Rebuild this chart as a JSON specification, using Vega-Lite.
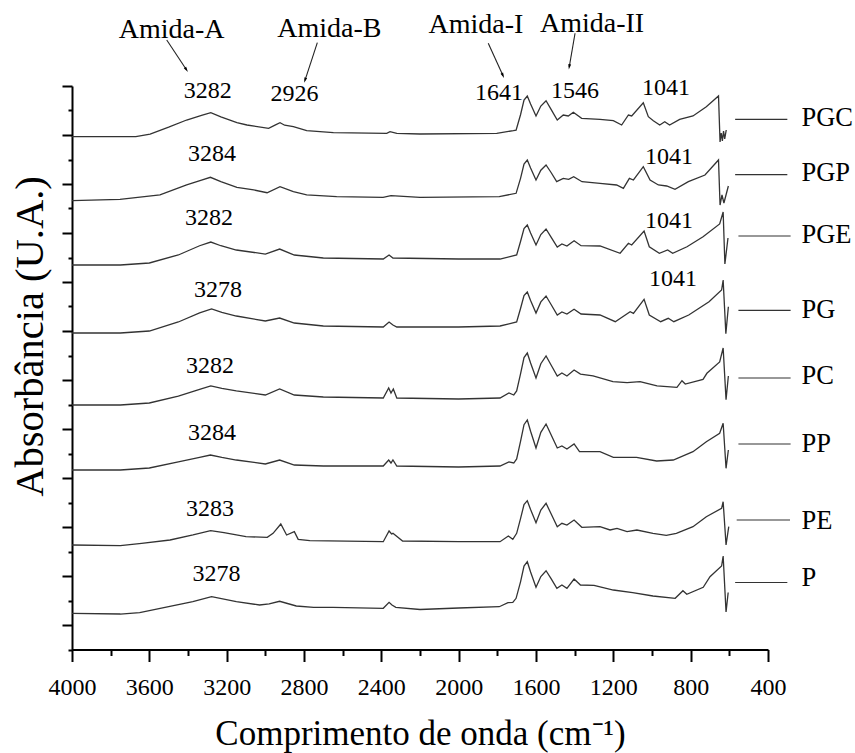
{
"$schema": "https://vega.github.io/schema/vega-lite/v6.json",
"width": 696, "height": 563.5,
"autosize": "none",
"padding": {"left": 72, "top": 86, "right": 87, "bottom": 103.5},
"background": "white",
"config": {
  "font": "'Liberation Serif', 'Times New Roman', serif",
  "view": {"stroke": null},
  "axis": {"domain": true, "domainColor": "black", "tickColor": "black", "labelColor": "black", "titleColor": "black", "labelFont": "'Liberation Serif', 'Times New Roman', serif", "titleFont": "'Liberation Serif', 'Times New Roman', serif", "grid": false, "domainWidth": 2, "tickWidth": 2, "titleFontWeight": "normal"}
},
"datasets": {
"sp": [
{"s":"PGC","x":4000,"y":10.465},{"s":"PGC","x":3670,"y":10.465},{"s":"PGC","x":3596,"y":10.52},{"s":"PGC","x":3500,"y":10.66},{"s":"PGC","x":3407,"y":10.806},{"s":"PGC","x":3330,"y":10.9},{"s":"PGC","x":3282,"y":10.955},{"s":"PGC","x":3230,"y":10.87},{"s":"PGC","x":3147,"y":10.751},{"s":"PGC","x":3095,"y":10.704},{"s":"PGC","x":2983,"y":10.637},{"s":"PGC","x":2950,"y":10.7},{"s":"PGC","x":2924,"y":10.751},{"s":"PGC","x":2900,"y":10.7},{"s":"PGC","x":2855,"y":10.669},{"s":"PGC","x":2786,"y":10.588},{"s":"PGC","x":2648,"y":10.547},{"s":"PGC","x":2372,"y":10.535},{"s":"PGC","x":2355,"y":10.567},{"s":"PGC","x":2320,"y":10.535},{"s":"PGC","x":2200,"y":10.52},{"s":"PGC","x":1803,"y":10.535},{"s":"PGC","x":1717,"y":10.588},{"s":"PGC","x":1703,"y":10.6},{"s":"PGC","x":1680,"y":10.913},{"s":"PGC","x":1662,"y":11.212},{"s":"PGC","x":1645,"y":11.296},{"s":"PGC","x":1628,"y":11.133},{"s":"PGC","x":1600,"y":10.888},{"s":"PGC","x":1575,"y":11.091},{"s":"PGC","x":1548,"y":11.2},{"s":"PGC","x":1522,"y":11.023},{"s":"PGC","x":1490,"y":10.806},{"s":"PGC","x":1459,"y":10.908},{"s":"PGC","x":1433,"y":10.888},{"s":"PGC","x":1407,"y":10.963},{"s":"PGC","x":1364,"y":10.841},{"s":"PGC","x":1269,"y":10.82},{"s":"PGC","x":1200,"y":10.792},{"s":"PGC","x":1157,"y":10.704},{"s":"PGC","x":1122,"y":10.908},{"s":"PGC","x":1105,"y":10.888},{"s":"PGC","x":1045,"y":11.159},{"s":"PGC","x":1019,"y":10.873},{"s":"PGC","x":993,"y":10.792},{"s":"PGC","x":960,"y":10.704},{"s":"PGC","x":934,"y":10.771},{"s":"PGC","x":909,"y":10.704},{"s":"PGC","x":857,"y":10.82},{"s":"PGC","x":788,"y":10.888},{"s":"PGC","x":719,"y":11.078},{"s":"PGC","x":656,"y":11.296},{"s":"PGC","x":648,"y":10.357},{"s":"PGC","x":642,"y":10.541},{"s":"PGC","x":636,"y":10.378},{"s":"PGC","x":630,"y":10.582},{"s":"PGC","x":624,"y":10.42},{"s":"PGC","x":616,"y":10.602},
{"s":"PGP","x":4000,"y":9.159},{"s":"PGP","x":3752,"y":9.188},{"s":"PGP","x":3545,"y":9.276},{"s":"PGP","x":3407,"y":9.48},{"s":"PGP","x":3330,"y":9.58},{"s":"PGP","x":3284,"y":9.637},{"s":"PGP","x":3230,"y":9.55},{"s":"PGP","x":3147,"y":9.433},{"s":"PGP","x":3060,"y":9.378},{"s":"PGP","x":2991,"y":9.322},{"s":"PGP","x":2924,"y":9.445},{"s":"PGP","x":2855,"y":9.343},{"s":"PGP","x":2786,"y":9.276},{"s":"PGP","x":2631,"y":9.241},{"s":"PGP","x":2391,"y":9.229},{"s":"PGP","x":2350,"y":9.261},{"s":"PGP","x":2200,"y":9.229},{"s":"PGP","x":1790,"y":9.241},{"s":"PGP","x":1703,"y":9.31},{"s":"PGP","x":1680,"y":9.616},{"s":"PGP","x":1662,"y":9.908},{"s":"PGP","x":1645,"y":9.99},{"s":"PGP","x":1628,"y":9.827},{"s":"PGP","x":1600,"y":9.582},{"s":"PGP","x":1575,"y":9.781},{"s":"PGP","x":1548,"y":9.888},{"s":"PGP","x":1522,"y":9.735},{"s":"PGP","x":1493,"y":9.547},{"s":"PGP","x":1459,"y":9.616},{"s":"PGP","x":1431,"y":9.596},{"s":"PGP","x":1405,"y":9.649},{"s":"PGP","x":1362,"y":9.547},{"s":"PGP","x":1269,"y":9.514},{"s":"PGP","x":1183,"y":9.48},{"s":"PGP","x":1148,"y":9.412},{"s":"PGP","x":1117,"y":9.616},{"s":"PGP","x":1096,"y":9.582},{"s":"PGP","x":1045,"y":9.853},{"s":"PGP","x":1010,"y":9.582},{"s":"PGP","x":967,"y":9.48},{"s":"PGP","x":924,"y":9.459},{"s":"PGP","x":881,"y":9.392},{"s":"PGP","x":812,"y":9.547},{"s":"PGP","x":726,"y":9.684},{"s":"PGP","x":656,"y":9.99},{"s":"PGP","x":648,"y":9.071},{"s":"PGP","x":638,"y":9.276},{"s":"PGP","x":628,"y":9.112},{"s":"PGP","x":605,"y":9.459},
{"s":"PGE","x":4000,"y":7.847},{"s":"PGE","x":3750,"y":7.847},{"s":"PGE","x":3600,"y":7.888},{"s":"PGE","x":3450,"y":8.051},{"s":"PGE","x":3340,"y":8.24},{"s":"PGE","x":3282,"y":8.316},{"s":"PGE","x":3230,"y":8.24},{"s":"PGE","x":3150,"y":8.153},{"s":"PGE","x":3000,"y":8.071},{"s":"PGE","x":2926,"y":8.173},{"s":"PGE","x":2850,"y":8.051},{"s":"PGE","x":2700,"y":7.99},{"s":"PGE","x":2390,"y":7.969},{"s":"PGE","x":2360,"y":8.051},{"s":"PGE","x":2340,"y":7.99},{"s":"PGE","x":2000,"y":7.969},{"s":"PGE","x":1786,"y":7.969},{"s":"PGE","x":1700,"y":8.051},{"s":"PGE","x":1680,"y":8.326},{"s":"PGE","x":1662,"y":8.59},{"s":"PGE","x":1645,"y":8.663},{"s":"PGE","x":1628,"y":8.5},{"s":"PGE","x":1600,"y":8.255},{"s":"PGE","x":1575,"y":8.468},{"s":"PGE","x":1548,"y":8.582},{"s":"PGE","x":1522,"y":8.416},{"s":"PGE","x":1490,"y":8.214},{"s":"PGE","x":1466,"y":8.276},{"s":"PGE","x":1440,"y":8.235},{"s":"PGE","x":1403,"y":8.343},{"s":"PGE","x":1367,"y":8.241},{"s":"PGE","x":1269,"y":8.235},{"s":"PGE","x":1165,"y":8.086},{"s":"PGE","x":1122,"y":8.29},{"s":"PGE","x":1105,"y":8.255},{"s":"PGE","x":1041,"y":8.541},{"s":"PGE","x":1014,"y":8.22},{"s":"PGE","x":962,"y":8.086},{"s":"PGE","x":919,"y":8.153},{"s":"PGE","x":893,"y":8.086},{"s":"PGE","x":819,"y":8.22},{"s":"PGE","x":736,"y":8.424},{"s":"PGE","x":650,"y":8.684},{"s":"PGE","x":632,"y":8.929},{"s":"PGE","x":623,"y":7.867},{"s":"PGE","x":607,"y":8.398},
{"s":"PG","x":4000,"y":6.459},{"s":"PG","x":3750,"y":6.459},{"s":"PG","x":3600,"y":6.5},{"s":"PG","x":3450,"y":6.684},{"s":"PG","x":3340,"y":6.87},{"s":"PG","x":3278,"y":6.949},{"s":"PG","x":3225,"y":6.88},{"s":"PG","x":3150,"y":6.806},{"s":"PG","x":3000,"y":6.704},{"s":"PG","x":2926,"y":6.765},{"s":"PG","x":2850,"y":6.663},{"s":"PG","x":2700,"y":6.602},{"s":"PG","x":2390,"y":6.582},{"s":"PG","x":2360,"y":6.684},{"s":"PG","x":2340,"y":6.622},{"s":"PG","x":2320,"y":6.582},{"s":"PG","x":2000,"y":6.582},{"s":"PG","x":1786,"y":6.602},{"s":"PG","x":1700,"y":6.684},{"s":"PG","x":1680,"y":6.959},{"s":"PG","x":1662,"y":7.223},{"s":"PG","x":1645,"y":7.296},{"s":"PG","x":1628,"y":7.124},{"s":"PG","x":1600,"y":6.867},{"s":"PG","x":1575,"y":7.093},{"s":"PG","x":1548,"y":7.214},{"s":"PG","x":1522,"y":7.04},{"s":"PG","x":1490,"y":6.827},{"s":"PG","x":1466,"y":6.888},{"s":"PG","x":1440,"y":6.847},{"s":"PG","x":1403,"y":6.943},{"s":"PG","x":1367,"y":6.847},{"s":"PG","x":1269,"y":6.827},{"s":"PG","x":1190,"y":6.69},{"s":"PG","x":1113,"y":6.894},{"s":"PG","x":1096,"y":6.861},{"s":"PG","x":1041,"y":7.147},{"s":"PG","x":1014,"y":6.827},{"s":"PG","x":955,"y":6.69},{"s":"PG","x":916,"y":6.759},{"s":"PG","x":887,"y":6.69},{"s":"PG","x":810,"y":6.827},{"s":"PG","x":705,"y":7.098},{"s":"PG","x":640,"y":7.337},{"s":"PG","x":632,"y":7.541},{"s":"PG","x":618,"y":6.447},{"s":"PG","x":605,"y":6.996},
{"s":"PC","x":4000,"y":4.99},{"s":"PC","x":3750,"y":4.99},{"s":"PC","x":3600,"y":5.031},{"s":"PC","x":3450,"y":5.173},{"s":"PC","x":3340,"y":5.31},{"s":"PC","x":3282,"y":5.378},{"s":"PC","x":3225,"y":5.33},{"s":"PC","x":3150,"y":5.276},{"s":"PC","x":3000,"y":5.194},{"s":"PC","x":2926,"y":5.316},{"s":"PC","x":2850,"y":5.194},{"s":"PC","x":2700,"y":5.153},{"s":"PC","x":2390,"y":5.133},{"s":"PC","x":2362,"y":5.337},{"s":"PC","x":2350,"y":5.235},{"s":"PC","x":2338,"y":5.316},{"s":"PC","x":2320,"y":5.133},{"s":"PC","x":2000,"y":5.112},{"s":"PC","x":1786,"y":5.133},{"s":"PC","x":1740,"y":5.235},{"s":"PC","x":1715,"y":5.194},{"s":"PC","x":1700,"y":5.276},{"s":"PC","x":1680,"y":5.625},{"s":"PC","x":1662,"y":5.958},{"s":"PC","x":1645,"y":6.051},{"s":"PC","x":1628,"y":5.847},{"s":"PC","x":1600,"y":5.541},{"s":"PC","x":1575,"y":5.833},{"s":"PC","x":1548,"y":5.99},{"s":"PC","x":1522,"y":5.806},{"s":"PC","x":1490,"y":5.582},{"s":"PC","x":1466,"y":5.643},{"s":"PC","x":1440,"y":5.582},{"s":"PC","x":1403,"y":5.704},{"s":"PC","x":1370,"y":5.622},{"s":"PC","x":1305,"y":5.582},{"s":"PC","x":1202,"y":5.465},{"s":"PC","x":1129,"y":5.445},{"s":"PC","x":1062,"y":5.465},{"s":"PC","x":974,"y":5.378},{"s":"PC","x":871,"y":5.351},{"s":"PC","x":845,"y":5.486},{"s":"PC","x":828,"y":5.418},{"s":"PC","x":736,"y":5.514},{"s":"PC","x":716,"y":5.637},{"s":"PC","x":650,"y":5.867},{"s":"PC","x":632,"y":6.153},{"s":"PC","x":617,"y":5.1},{"s":"PC","x":605,"y":5.582},
{"s":"PP","x":4000,"y":3.663},{"s":"PP","x":3750,"y":3.663},{"s":"PP","x":3600,"y":3.704},{"s":"PP","x":3450,"y":3.827},{"s":"PP","x":3340,"y":3.92},{"s":"PP","x":3284,"y":3.969},{"s":"PP","x":3225,"y":3.92},{"s":"PP","x":3150,"y":3.867},{"s":"PP","x":3000,"y":3.786},{"s":"PP","x":2926,"y":3.867},{"s":"PP","x":2850,"y":3.765},{"s":"PP","x":2700,"y":3.745},{"s":"PP","x":2390,"y":3.745},{"s":"PP","x":2362,"y":3.867},{"s":"PP","x":2350,"y":3.806},{"s":"PP","x":2340,"y":3.867},{"s":"PP","x":2320,"y":3.745},{"s":"PP","x":2000,"y":3.724},{"s":"PP","x":1786,"y":3.745},{"s":"PP","x":1740,"y":3.827},{"s":"PP","x":1715,"y":3.806},{"s":"PP","x":1700,"y":3.888},{"s":"PP","x":1680,"y":4.246},{"s":"PP","x":1662,"y":4.588},{"s":"PP","x":1645,"y":4.684},{"s":"PP","x":1628,"y":4.455},{"s":"PP","x":1600,"y":4.112},{"s":"PP","x":1575,"y":4.431},{"s":"PP","x":1548,"y":4.602},{"s":"PP","x":1522,"y":4.382},{"s":"PP","x":1490,"y":4.112},{"s":"PP","x":1466,"y":4.153},{"s":"PP","x":1440,"y":4.092},{"s":"PP","x":1403,"y":4.194},{"s":"PP","x":1375,"y":4.037},{"s":"PP","x":1269,"y":4.037},{"s":"PP","x":1200,"y":3.922},{"s":"PP","x":1080,"y":3.922},{"s":"PP","x":976,"y":3.847},{"s":"PP","x":890,"y":3.867},{"s":"PP","x":788,"y":4.037},{"s":"PP","x":719,"y":4.241},{"s":"PP","x":650,"y":4.412},{"s":"PP","x":632,"y":4.616},{"s":"PP","x":617,"y":3.698},{"s":"PP","x":605,"y":4.071},
{"s":"PE","x":4000,"y":2.133},{"s":"PE","x":3750,"y":2.118},{"s":"PE","x":3640,"y":2.167},{"s":"PE","x":3493,"y":2.235},{"s":"PE","x":3374,"y":2.337},{"s":"PE","x":3283,"y":2.424},{"s":"PE","x":3214,"y":2.384},{"s":"PE","x":3100,"y":2.302},{"s":"PE","x":2990,"y":2.29},{"s":"PE","x":2960,"y":2.371},{"s":"PE","x":2920,"y":2.561},{"s":"PE","x":2890,"y":2.337},{"s":"PE","x":2850,"y":2.404},{"s":"PE","x":2830,"y":2.249},{"s":"PE","x":2770,"y":2.22},{"s":"PE","x":2390,"y":2.2},{"s":"PE","x":2360,"y":2.418},{"s":"PE","x":2347,"y":2.357},{"s":"PE","x":2340,"y":2.371},{"s":"PE","x":2290,"y":2.214},{"s":"PE","x":2000,"y":2.2},{"s":"PE","x":1786,"y":2.2},{"s":"PE","x":1743,"y":2.316},{"s":"PE","x":1720,"y":2.249},{"s":"PE","x":1700,"y":2.371},{"s":"PE","x":1680,"y":2.671},{"s":"PE","x":1662,"y":2.957},{"s":"PE","x":1645,"y":3.037},{"s":"PE","x":1628,"y":2.857},{"s":"PE","x":1600,"y":2.588},{"s":"PE","x":1575,"y":2.845},{"s":"PE","x":1548,"y":2.984},{"s":"PE","x":1522,"y":2.769},{"s":"PE","x":1490,"y":2.506},{"s":"PE","x":1466,"y":2.576},{"s":"PE","x":1440,"y":2.541},{"s":"PE","x":1403,"y":2.643},{"s":"PE","x":1363,"y":2.494},{"s":"PE","x":1269,"y":2.506},{"s":"PE","x":1217,"y":2.439},{"s":"PE","x":1181,"y":2.473},{"s":"PE","x":1129,"y":2.404},{"s":"PE","x":1078,"y":2.439},{"s":"PE","x":995,"y":2.371},{"s":"PE","x":926,"y":2.331},{"s":"PE","x":874,"y":2.371},{"s":"PE","x":788,"y":2.506},{"s":"PE","x":719,"y":2.71},{"s":"PE","x":640,"y":2.882},{"s":"PE","x":632,"y":3.016},{"s":"PE","x":617,"y":2.133},{"s":"PE","x":603,"y":2.506},
{"s":"P","x":4000,"y":0.739},{"s":"P","x":3750,"y":0.724},{"s":"P","x":3650,"y":0.751},{"s":"P","x":3500,"y":0.873},{"s":"P","x":3375,"y":0.976},{"s":"P","x":3278,"y":1.078},{"s":"P","x":3150,"y":0.976},{"s":"P","x":3030,"y":0.908},{"s":"P","x":2980,"y":0.929},{"s":"P","x":2926,"y":0.984},{"s":"P","x":2840,"y":0.888},{"s":"P","x":2750,"y":0.861},{"s":"P","x":2650,"y":0.861},{"s":"P","x":2390,"y":0.841},{"s":"P","x":2360,"y":0.963},{"s":"P","x":2345,"y":0.908},{"s":"P","x":2325,"y":0.861},{"s":"P","x":2200,"y":0.816},{"s":"P","x":2000,"y":0.847},{"s":"P","x":1790,"y":0.873},{"s":"P","x":1745,"y":0.955},{"s":"P","x":1720,"y":0.963},{"s":"P","x":1703,"y":1.045},{"s":"P","x":1680,"y":1.381},{"s":"P","x":1662,"y":1.702},{"s":"P","x":1645,"y":1.792},{"s":"P","x":1628,"y":1.583},{"s":"P","x":1600,"y":1.269},{"s":"P","x":1575,"y":1.489},{"s":"P","x":1548,"y":1.608},{"s":"P","x":1522,"y":1.446},{"s":"P","x":1492,"y":1.249},{"s":"P","x":1466,"y":1.316},{"s":"P","x":1440,"y":1.249},{"s":"P","x":1403,"y":1.439},{"s":"P","x":1370,"y":1.316},{"s":"P","x":1300,"y":1.31},{"s":"P","x":1200,"y":1.214},{"s":"P","x":1100,"y":1.159},{"s":"P","x":995,"y":1.092},{"s":"P","x":880,"y":1.045},{"s":"P","x":840,"y":1.2},{"s":"P","x":820,"y":1.127},{"s":"P","x":735,"y":1.269},{"s":"P","x":700,"y":1.486},{"s":"P","x":640,"y":1.704},{"s":"P","x":632,"y":1.908},{"s":"P","x":617,"y":0.765},{"s":"P","x":606,"y":1.163}
],
"peaks": [
{"t":"3282","x":3298,"y":11.398},{"t":"2926","x":2849,"y":11.337},{"t":"1641","x":1792,"y":11.357},{"t":"1546","x":1398,"y":11.408},{"t":"1041","x":928,"y":11.469},
{"t":"3284","x":3276,"y":10.112},{"t":"1041","x":912,"y":10.051},
{"t":"3282","x":3291,"y":8.806},{"t":"1041","x":912,"y":8.755},
{"t":"3278","x":3245,"y":7.337},{"t":"1041","x":891,"y":7.561},
{"t":"3282","x":3286,"y":5.786},{"t":"3284","x":3276,"y":4.418},{"t":"3283","x":3286,"y":2.867},{"t":"3278","x":3252,"y":1.541}
],
"amide": [
{"t":"Amida-A","x":3485,"y":12.48},{"t":"Amida-B","x":2669,"y":12.5},{"t":"Amida-I","x":1911,"y":12.582},{"t":"Amida-II","x":1310,"y":12.602}
],
"arrows": [
{"x":3510,"y":12.439,"x2":3408,"y2":11.831},
{"x":2731,"y":12.384,"x2":2795,"y2":11.616},
{"x":1847,"y":12.371,"x2":1771,"y2":11.714},
{"x":1398,"y":12.576,"x2":1428,"y2":11.892}
],
"heads": [
{"x":3408,"y":11.831,"a":146.4},
{"x":2795,"y":11.616,"a":198.3},
{"x":1771,"y":11.714,"a":155.5},
{"x":1428,"y":11.892,"a":189.9}
],
"legline": [
{"t":"PGC","x":570,"x2":300,"y":10.82},
{"t":"PGP","x":570,"x2":300,"y":9.692},
{"t":"PGE","x":553,"x2":283,"y":8.439},
{"t":"PG","x":553,"x2":283,"y":6.92},
{"t":"PC","x":553,"x2":283,"y":5.541},
{"t":"PP","x":553,"x2":283,"y":4.194},
{"t":"PE","x":562,"x2":286,"y":2.643},
{"t":"P","x":570,"x2":300,"y":1.367}
],
"legtext": [
{"t":"PGC","x":227,"y":10.857},
{"t":"PGP","x":227,"y":9.727},
{"t":"PGE","x":227,"y":8.459},
{"t":"PG","x":227,"y":6.92},
{"t":"PC","x":227,"y":5.573},
{"t":"PP","x":227,"y":4.188},
{"t":"PE","x":227,"y":2.622},
{"t":"P","x":227,"y":1.455}
]
},
"encoding": {
  "x": {"field": "x", "type": "quantitative",
   "scale": {"domain": [400, 4000], "reverse": true, "nice": false, "zero": false},
   "axis": {"title": "Comprimento de onda (cm⁻¹)", "titleFontSize": 35, "titleY": 95, "titleBaseline": "alphabetic",
     "values": [400,600,800,1000,1200,1400,1600,1800,2000,2200,2400,2600,2800,3000,3200,3400,3600,3800,4000],
     "labelExpr": "datum.value % 400 === 0 ? format(datum.value, 'd') : ''",
     "labelFontSize": 24, "labelPadding": 14, "labelFlush": false, "labelOverlap": false,
     "domain": true, "domainColor": "black", "domainWidth": 2,
     "tickSize": {"condition": {"test": "datum.value % 400 === 0", "value": 12}, "value": 6}}},
  "y": {"field": "y", "type": "quantitative",
   "scale": {"domain": [0, 11.5], "nice": false, "zero": false},
   "axis": {"title": "Absorbância (U.A.)", "titleFontSize": 40.5, "titleX": -42, "titleY": 250, "titleAngle": -90, "titleBaseline": "middle", "titleAlign": "center",
     "labels": false,
     "domain": true, "domainColor": "black", "domainWidth": 2,
     "values": [0,0.5,1,1.5,2,2.5,3,3.5,4,4.5,5,5.5,6,6.5,7,7.5,8,8.5,9,9.5,10,10.5,11,11.5],
     "tickSize": {"condition": {"test": "datum.value % 1 === 0.5", "value": 10}, "value": 4}}}
},
"layer": [
{
 "data": {"name": "sp"},
 "mark": {"type": "line", "stroke": "#333333", "strokeWidth": 1.3},
 "encoding": {"detail": {"field": "s", "type": "nominal"}}
},
{
 "data": {"name": "peaks"},
 "mark": {"type": "text", "font": "'Liberation Serif', 'Times New Roman', serif", "fontSize": 24, "align": "center", "baseline": "middle", "color": "black"},
 "encoding": {"text": {"field": "t"}}
},
{
 "data": {"name": "amide"},
 "mark": {"type": "text", "font": "'Liberation Serif', 'Times New Roman', serif", "fontSize": 28, "align": "center", "baseline": "alphabetic", "color": "black"},
 "encoding": {"text": {"field": "t"}}
},
{
 "data": {"name": "arrows"},
 "mark": {"type": "rule", "stroke": "#222222", "strokeWidth": 1.1},
 "encoding": {"x2": {"field": "x2"}, "y2": {"field": "y2"}}
},
{
 "data": {"name": "heads"},
 "mark": {"type": "point", "shape": "M0,-0.75L0.4,0.75L-0.4,0.75Z", "filled": true, "fill": "black", "size": 50, "opacity": 1},
 "encoding": {"angle": {"field": "a", "type": "quantitative", "scale": null}}
},
{
 "data": {"name": "legline"},
 "mark": {"type": "rule", "stroke": "#333333", "strokeWidth": 1.2},
 "encoding": {"x2": {"field": "x2"}}
},
{
 "data": {"name": "legtext"},
 "mark": {"type": "text", "font": "'Liberation Serif', 'Times New Roman', serif", "fontSize": 26.5, "align": "left", "baseline": "middle", "color": "black"},
 "encoding": {"text": {"field": "t"}}
}
]
}
